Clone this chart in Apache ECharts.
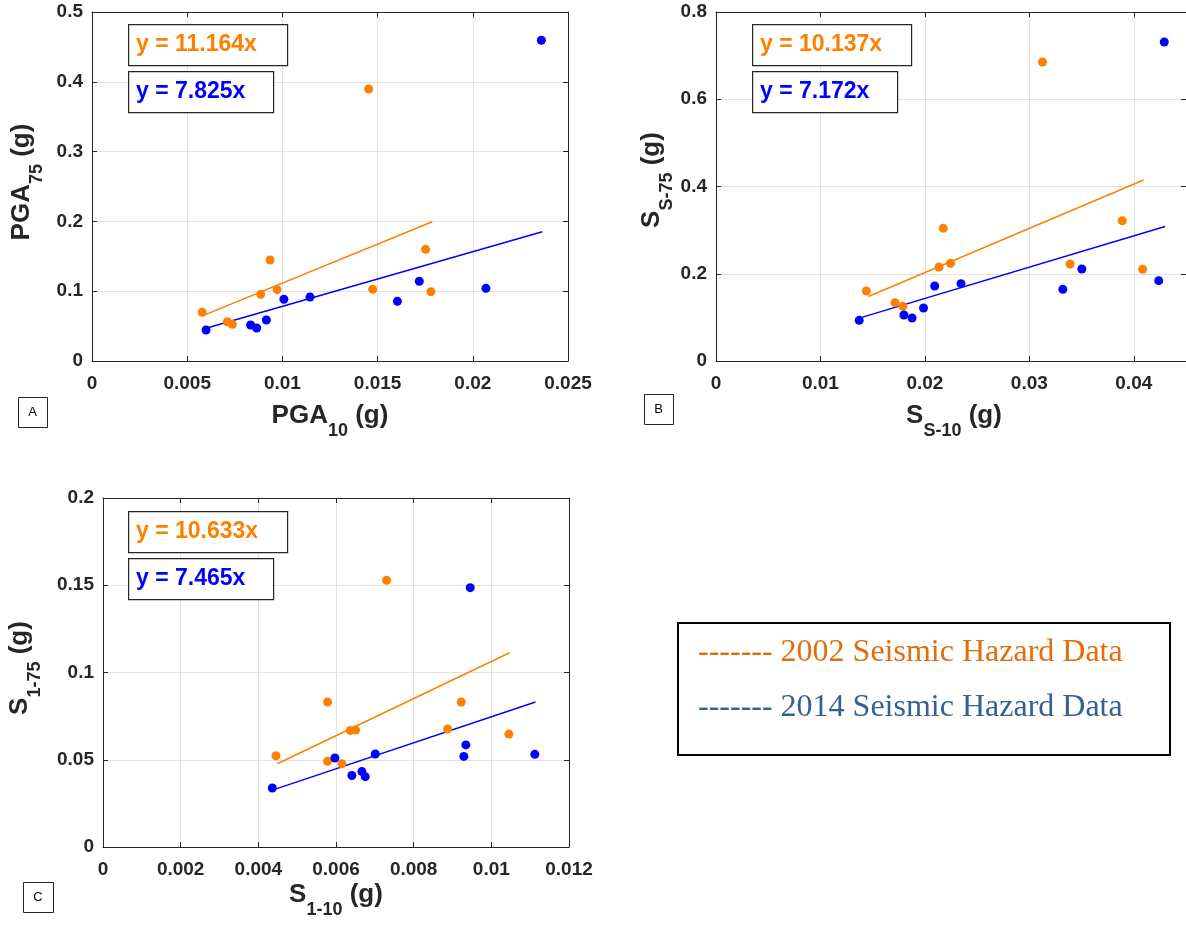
<!DOCTYPE html>
<html><head><meta charset="utf-8">
<script src="https://cdn.jsdelivr.net/npm/echarts@6/dist/echarts.min.js"></script>
<style>html,body{margin:0;padding:0;background:#fff}#c{width:1186px;height:927px}</style>
</head><body><div id="c"></div>
<script>
// ---------- DATA ----------
// Panel A: PGA10 (x) vs PGA75 (y)
const pga2002 = [[0.00579,0.0698],[0.00711,0.0563],[0.00737,0.0525],[0.00886,0.0955],[0.00935,0.1447],[0.00972,0.1022],[0.01453,0.3897],[0.01474,0.1027],[0.01752,0.1600],[0.01780,0.0993]];
const pga2014 = [[0.00599,0.0444],[0.00833,0.0516],[0.00865,0.0473],[0.00916,0.0587],[0.01008,0.0884],[0.01145,0.0917],[0.01604,0.0855],[0.01719,0.1142],[0.02069,0.1041],[0.02360,0.4595]];
const pgaFit2002 = [[0.00579,0.0646],[0.01787,0.1995]];
const pgaFit2014 = [[0.00599,0.0469],[0.02365,0.1851]];
// Panel B: Ss10 (x) vs Ss75 (y)
const ss2002 = [[0.01440,0.1605],[0.01714,0.1337],[0.01789,0.1253],[0.02135,0.2155],[0.02176,0.3041],[0.02245,0.2239],[0.03126,0.6854],[0.03390,0.2224],[0.03890,0.3216],[0.04085,0.2101]];
const ss2014 = [[0.01371,0.0932],[0.01799,0.1054],[0.01877,0.0985],[0.01987,0.1215],[0.02094,0.1719],[0.02346,0.1773],[0.03321,0.1643],[0.03503,0.2109],[0.04239,0.1841],[0.04292,0.7312]];
const ssFit2002 = [[0.01459,0.1479],[0.04094,0.4150]];
const ssFit2014 = [[0.01371,0.0983],[0.04299,0.3083]];
// Panel C: S1-10 (x) vs S1-75 (y)
const s12002 = [[0.004453,0.0523],[0.005784,0.0831],[0.005784,0.0491],[0.006152,0.0477],[0.006368,0.0668],[0.006505,0.0670],[0.007302,0.1528],[0.008873,0.0676],[0.009225,0.0831],[0.010451,0.0647]];
const s12014 = [[0.004360,0.0338],[0.005972,0.0510],[0.006409,0.0410],[0.006667,0.0432],[0.006754,0.0403],[0.007011,0.0533],[0.009292,0.0519],[0.009344,0.0585],[0.009457,0.1486],[0.011120,0.0531]];
const s1Fit2002 = [[0.004489,0.0477],[0.010468,0.1113]];
const s1Fit2014 = [[0.004360,0.0326],[0.011138,0.0831]];
// equations
const eqA = ['y = 11.164x', 'y = 7.825x'];
const eqB = ['y = 10.137x', 'y = 7.172x'];
const eqC = ['y = 10.633x', 'y = 7.465x'];
const legendLabels = ['2002 Seismic Hazard Data', '2014 Seismic Hazard Data'];
// axis ranges [min, max, interval]
const xRangeA = [0, 0.025, 0.005], yRangeA = [0, 0.5, 0.1];
const xRangeB = [0, 0.045, 0.01],  yRangeB = [0, 0.8, 0.2];
const xRangeC = [0, 0.012, 0.002], yRangeC = [0, 0.2, 0.05];

// ---------- STYLE ----------
const ORANGE = '#FF8000', BLUE = '#0000FF', AX = '#262626';
const FONT = 'Liberation Sans, Arial, Helvetica, sans-serif';
const SERIF = 'Liberation Serif, Times New Roman, serif';

const grids = [
  {left: 92, top: 12, width: 476, height: 349},
  {left: 716, top: 12, width: 476, height: 349},
  {left: 103, top: 498, width: 466, height: 349}
];

const xAxes = [], yAxes = [];
function addAxes(gi, xr, yr, hideMaxX) {
  const common = {
    type: 'value', gridIndex: gi,
    axisLine: {show: true, onZero: false, lineStyle: {color: AX, width: 1}},
    axisTick: {show: true, inside: true, length: 5, lineStyle: {color: AX}},
    splitLine: {show: false}
  };
  xAxes.push(Object.assign({}, common, {
    position: 'bottom', min: xr[0], max: xr[1], interval: xr[2],
    splitLine: {show: true, lineStyle: {color: '#E3E3E3', width: 1}},
    axisLabel: {show: true, color: AX, fontFamily: FONT, fontWeight: 'bold', fontSize: 19, margin: 13, showMaxLabel: !hideMaxX}
  }));
  xAxes.push(Object.assign({}, common, {
    position: 'top', min: xr[0], max: xr[1], interval: xr[2], axisLabel: {show: false}
  }));
  yAxes.push(Object.assign({}, common, {
    position: 'left', min: yr[0], max: yr[1], interval: yr[2],
    splitLine: {show: true, lineStyle: {color: '#E3E3E3', width: 1}},
    axisLabel: {show: true, color: AX, fontFamily: FONT, fontWeight: 'bold', fontSize: 19, margin: 9}
  }));
  yAxes.push(Object.assign({}, common, {
    position: 'right', min: yr[0], max: yr[1], interval: yr[2], axisLabel: {show: false}
  }));
}
addAxes(0, xRangeA, yRangeA, false);
addAxes(1, xRangeB, yRangeB, true);
addAxes(2, xRangeC, yRangeC, false);

const series = [];
function addSeries(gi, p02, p14, f02, f14) {
  const xi = gi * 2, yi = gi * 2;
  series.push({type: 'line', xAxisIndex: xi, yAxisIndex: yi, data: f02, showSymbol: false, symbol: 'none', z: 2,
    lineStyle: {color: ORANGE, width: 1.5}, silent: true});
  series.push({type: 'line', xAxisIndex: xi, yAxisIndex: yi, data: f14, showSymbol: false, symbol: 'none', z: 2,
    lineStyle: {color: BLUE, width: 1.5}, silent: true});
  series.push({type: 'scatter', xAxisIndex: xi, yAxisIndex: yi, data: p02, symbolSize: 9, z: 3,
    itemStyle: {color: ORANGE, opacity: 1}});
  series.push({type: 'scatter', xAxisIndex: xi, yAxisIndex: yi, data: p14, symbolSize: 9, z: 3,
    itemStyle: {color: BLUE, opacity: 1}});
}
addSeries(0, pga2002, pga2014, pgaFit2002, pgaFit2014);
addSeries(1, ss2002, ss2014, ssFit2002, ssFit2014);
addSeries(2, s12002, s12014, s1Fit2002, s1Fit2014);

// ---------- GRAPHIC (equation boxes, titles, legend) ----------
const graphic = [];
function eqBoxes(x, y, eq) {
  const items = [[eq[0], ORANGE, 159, 0], [eq[1], BLUE, 145, 47]];
  items.forEach(function (it) {
    graphic.push({type: 'rect', left: x, top: y + it[3], shape: {width: it[2], height: 41}, z: 10,
      style: {fill: '#fff', stroke: AX, lineWidth: 1.2}});
    graphic.push({type: 'text', x: x + 8, y: y + it[3] + 21, z: 11,
      style: {text: it[0], fill: it[1], font: 'bold 23px ' + FONT, verticalAlign: 'middle', align: 'left'}});
  });
}
eqBoxes(128, 24, eqA);
eqBoxes(752, 24, eqB);
eqBoxes(128, 511, eqC);

function letterBox(x, y, w, t) {
  graphic.push({type: 'rect', left: x, top: y, shape: {width: w, height: 30}, z: 10,
    style: {fill: '#fff', stroke: AX, lineWidth: 1}});
  graphic.push({type: 'text', x: x + w / 2, y: y + 15, z: 11,
    style: {text: t, fill: '#000', font: '13px ' + FONT, align: 'center', verticalAlign: 'middle'}});
}
letterBox(18, 397, 29, 'A');
letterBox(644, 394, 29, 'B');
letterBox(23, 882, 30, 'C');

const titleRich = {
  m: {fontSize: 26, fontWeight: 'bold', fontFamily: FONT, fill: AX, color: AX},
  s: {fontSize: 18, fontWeight: 'bold', fontFamily: FONT, fill: AX, color: AX, padding: [31, 0, 0, 0]}
};
function axisTitle(x, y, main, sub, rot) {
  graphic.push({type: 'text', x: x, y: y, rotation: rot ? Math.PI / 2 : 0, z: 11,
    style: {text: '{m|' + main + '}{s|' + sub + '}{m| (g)}', rich: titleRich, align: 'center', verticalAlign: 'middle'}});
}
axisTitle(330, 416, 'PGA', '10', false);
axisTitle(22, 182, 'PGA', '75', true);
axisTitle(954, 416, 'S', 'S-10', false);
axisTitle(652, 180, 'S', 'S-75', true);
axisTitle(336, 895, 'S', '1-10', false);
axisTitle(20, 668, 'S', '1-75', true);

graphic.push({type: 'rect', left: 677, top: 622, shape: {width: 492, height: 132}, z: 10,
  style: {fill: '#fff', stroke: '#000', lineWidth: 2}});
graphic.push({type: 'text', x: 698, y: 653, z: 11,
  style: {text: '------- ' + legendLabels[0], fill: '#E46C0A', font: '32px ' + SERIF, verticalAlign: 'middle'}});
graphic.push({type: 'text', x: 698, y: 708, z: 11,
  style: {text: '------- ' + legendLabels[1], fill: '#376092', font: '32px ' + SERIF, verticalAlign: 'middle'}});

const chart = echarts.init(document.getElementById('c'), null, {renderer: 'canvas'});
chart.setOption({
  backgroundColor: '#fff',
  animation: false,
  grid: grids,
  xAxis: xAxes,
  yAxis: yAxes,
  series: series,
  graphic: graphic
});
</script>
</body></html>
